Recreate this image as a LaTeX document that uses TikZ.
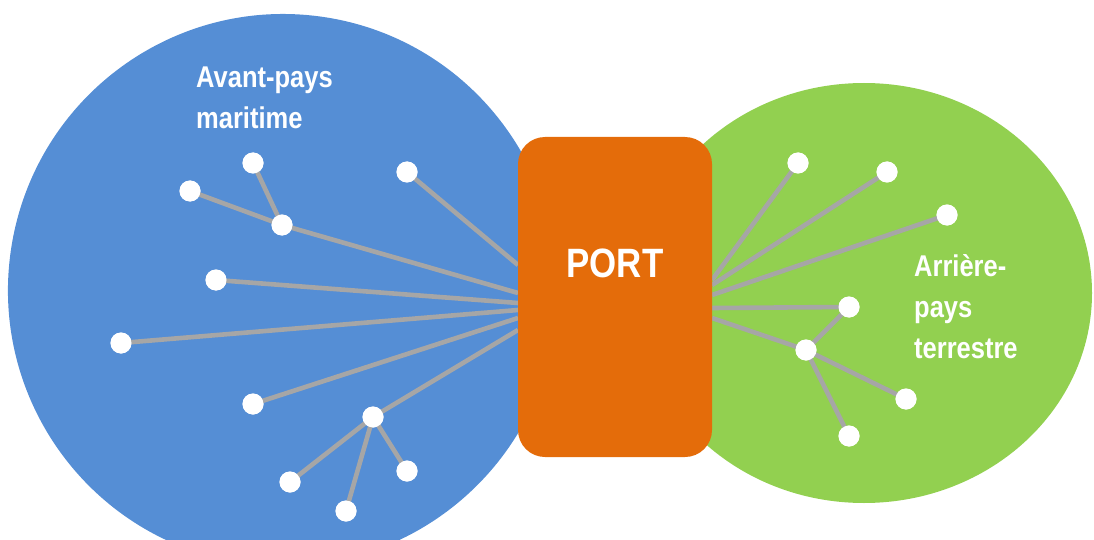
\documentclass[tikz,border=0pt]{standalone}
\usepackage{fontspec}
\newfontfamily\lblfont[FakeStretch=0.85]{Liberation Sans}
\definecolor{seablue}{HTML}{558ED5}
\definecolor{landgreen}{HTML}{92D050}
\definecolor{portorange}{HTML}{E46C0A}
\definecolor{linkgray}{HTML}{A6A6A6}
\tikzset{
  dot/.style={circle, fill=white, draw=none, minimum size=21pt, inner sep=0pt},
  link/.style={draw=linkgray, line width=4.6pt},
  portbox/.style={fill=portorange, draw=none, rounded corners=27pt, minimum width=194pt, minimum height=320pt, inner sep=0pt},
  lbl/.style={text=white, inner sep=0pt, font=\lblfont\bfseries\fontsize{30}{41}\selectfont},
}
\begin{document}
\begin{tikzpicture}[x=1pt,y=-1pt]
\useasboundingbox (0,0) rectangle (1094,540);
\clip (0,0) rectangle (1094,540);
% regions
\fill[seablue, rotate around={-8:(283,290)}] (283,290) ellipse[x radius=275, y radius=276];
\fill[landgreen] (864,293) ellipse[x radius=228, y radius=210];
% port edge points
\coordinate (pa4) at (518,265);
\coordinate (pa3) at (518,293);
\coordinate (pa5) at (518,303);
\coordinate (pa6) at (518,310);
\coordinate (pa7) at (518,318);
\coordinate (pa8) at (518,330);
\coordinate (pb1) at (712,280);
\coordinate (pb2) at (712,285);
\coordinate (pb3) at (712,295);
\coordinate (pb4) at (712,308);
\coordinate (pb5) at (712,318);
% dots
\node[dot] (a1) at (253,163) {};
\node[dot] (a2) at (190,191) {};
\node[dot] (a3) at (282,225) {};
\node[dot] (a4) at (407,172) {};
\node[dot] (a5) at (216,280) {};
\node[dot] (a6) at (121,343) {};
\node[dot] (a7) at (253,404) {};
\node[dot] (a8) at (373,417) {};
\node[dot] (a9) at (290,482) {};
\node[dot] (a10) at (346,511) {};
\node[dot] (a11) at (407,471) {};
\node[dot] (b1) at (798,163) {};
\node[dot] (b2) at (887,172) {};
\node[dot] (b3) at (947,215) {};
\node[dot] (b4) at (849,307) {};
\node[dot] (b5) at (806,350) {};
\node[dot] (b6) at (906,399) {};
\node[dot] (b7) at (849,436) {};
% connectors
\path[link] (a1.center) -- (a3.center);
\path[link] (a2.center) -- (a3.center);
\path[link] (a3.center) -- (pa3);
\path[link] (a4.center) -- (pa4);
\path[link] (a5.center) -- (pa5);
\path[link] (a6.center) -- (pa6);
\path[link] (a7.center) -- (pa7);
\path[link] (a8.center) -- (pa8);
\path[link] (a8.center) -- (a9.center);
\path[link] (a8.center) -- (a10.center);
\path[link] (a8.center) -- (a11.center);
\path[link] (b1.center) -- (pb1);
\path[link] (b2.center) -- (pb2);
\path[link] (b3.center) -- (pb3);
\path[link] (b4.center) -- (pb4);
\path[link] (b5.center) -- (pb5);
\path[link] (b5.center) -- (b4.center);
\path[link] (b5.center) -- (b6.center);
\path[link] (b5.center) -- (b7.center);
% dots on top of the connectors
\foreach \n in {a1,a2,a3,a4,a5,a6,a7,a8,a9,a10,a11,b1,b2,b3,b4,b5,b6,b7}
  \fill[white] (\n) circle[radius=10.5];
% port
\node[portbox] (port) at (615,297) {};
\node[lbl, anchor=base, font=\lblfont\bfseries\fontsize{41}{41}\selectfont] (porttxt) at (615,277) {PORT};
% labels
\node[lbl, anchor=base west] (avant) at (196,88) {\parbox[t]{200pt}{\raggedright Avant-pays\\maritime}};
\node[lbl, anchor=base west] (arriere) at (914,276) {\parbox[t]{170pt}{\raggedright Arrière-\\pays\\terrestre}};
\end{tikzpicture}
\end{document}
